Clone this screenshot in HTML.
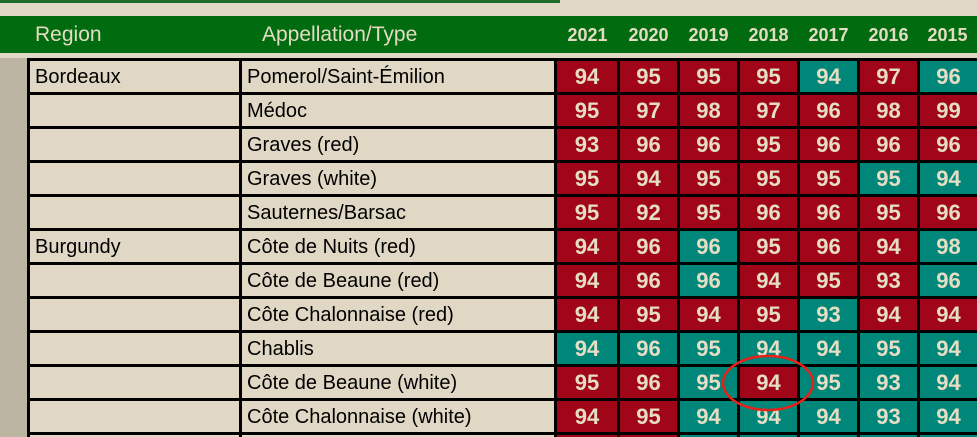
<!DOCTYPE html>
<html><head><meta charset="utf-8"><style>
html,body{margin:0;width:977px;height:437px;overflow:hidden}
body{background:#e0d8c4;position:relative;font-family:"Liberation Sans",sans-serif}
.top{position:absolute;left:0;top:0;width:560px;height:3px;background:#1f6b2a}
.hdr{position:absolute;left:0;top:16px;width:977px;height:37px;background:#006b0f;color:#e3dcc2;font-size:21px}
.hdr span{position:absolute;top:7px}
.hdr .y{font-weight:bold;font-size:18px;top:9px;width:57px;text-align:center}
.gray{position:absolute;left:0;top:58px;width:27px;height:379px;background:#bbb4a1}
.grid{position:absolute;left:27px;top:58px;width:950px;height:379px;overflow:hidden;background:#000;display:grid;grid-template-columns:209px 312px 60px 57px 57px 57px 57px 57px 57px;grid-auto-rows:31px;gap:3px;padding:3px 0 0 3px;box-sizing:border-box}
.t{background:#e0d8c4;font-size:20px;line-height:32px;padding-left:5px;color:#000}
.r,.g{font-weight:bold;font-size:22px;text-align:center;line-height:32px;color:#e6dec4}
.r{background:#a10518}.g{background:#00877a}
</style></head><body>
<div class="top"></div>
<div class="hdr"><span style="left:35px">Region</span><span style="left:262px">Appellation/Type</span>
<span class="y" style="left:559px">2021</span><span class="y" style="left:620px">2020</span><span class="y" style="left:680px">2019</span><span class="y" style="left:740px">2018</span><span class="y" style="left:800px">2017</span><span class="y" style="left:860px">2016</span><span class="y" style="left:919px">2015</span></div>
<div class="gray"></div>
<div class="grid">
<div class="t">Bordeaux</div><div class="t">Pomerol/Saint-Émilion</div><div class="r">94</div><div class="r">95</div><div class="r">95</div><div class="r">95</div><div class="g">94</div><div class="r">97</div><div class="g">96</div>
<div class="t"></div><div class="t">Médoc</div><div class="r">95</div><div class="r">97</div><div class="r">98</div><div class="r">97</div><div class="r">96</div><div class="r">98</div><div class="r">99</div>
<div class="t"></div><div class="t">Graves (red)</div><div class="r">93</div><div class="r">96</div><div class="r">96</div><div class="r">95</div><div class="r">96</div><div class="r">96</div><div class="r">96</div>
<div class="t"></div><div class="t">Graves (white)</div><div class="r">95</div><div class="r">94</div><div class="r">95</div><div class="r">95</div><div class="r">95</div><div class="g">95</div><div class="g">94</div>
<div class="t"></div><div class="t">Sauternes/Barsac</div><div class="r">95</div><div class="r">92</div><div class="r">95</div><div class="r">96</div><div class="r">96</div><div class="r">95</div><div class="r">96</div>
<div class="t">Burgundy</div><div class="t">Côte de Nuits (red)</div><div class="r">94</div><div class="r">96</div><div class="g">96</div><div class="r">95</div><div class="r">96</div><div class="r">94</div><div class="g">98</div>
<div class="t"></div><div class="t">Côte de Beaune (red)</div><div class="r">94</div><div class="r">96</div><div class="g">96</div><div class="r">94</div><div class="r">95</div><div class="r">93</div><div class="g">96</div>
<div class="t"></div><div class="t">Côte Chalonnaise (red)</div><div class="r">94</div><div class="r">95</div><div class="r">94</div><div class="r">95</div><div class="g">93</div><div class="r">94</div><div class="r">94</div>
<div class="t"></div><div class="t">Chablis</div><div class="g">94</div><div class="g">96</div><div class="g">95</div><div class="g">94</div><div class="g">94</div><div class="g">95</div><div class="g">94</div>
<div class="t"></div><div class="t">Côte de Beaune (white)</div><div class="r">95</div><div class="r">96</div><div class="g">95</div><div class="r">94</div><div class="g">95</div><div class="g">93</div><div class="g">94</div>
<div class="t"></div><div class="t">Côte Chalonnaise (white)</div><div class="r">94</div><div class="r">95</div><div class="g">94</div><div class="g">94</div><div class="g">94</div><div class="g">93</div><div class="g">94</div>
<div class="t"></div><div class="t"></div><div class="r"></div><div class="r"></div><div class="g"></div><div class="g"></div><div class="g"></div><div class="g"></div><div class="g"></div>
</div>
<svg style="position:absolute;left:0;top:0" width="977" height="437"><ellipse cx="768" cy="383" rx="45" ry="27" fill="none" stroke="#e8201a" stroke-width="2.5"/></svg>
</body></html>
